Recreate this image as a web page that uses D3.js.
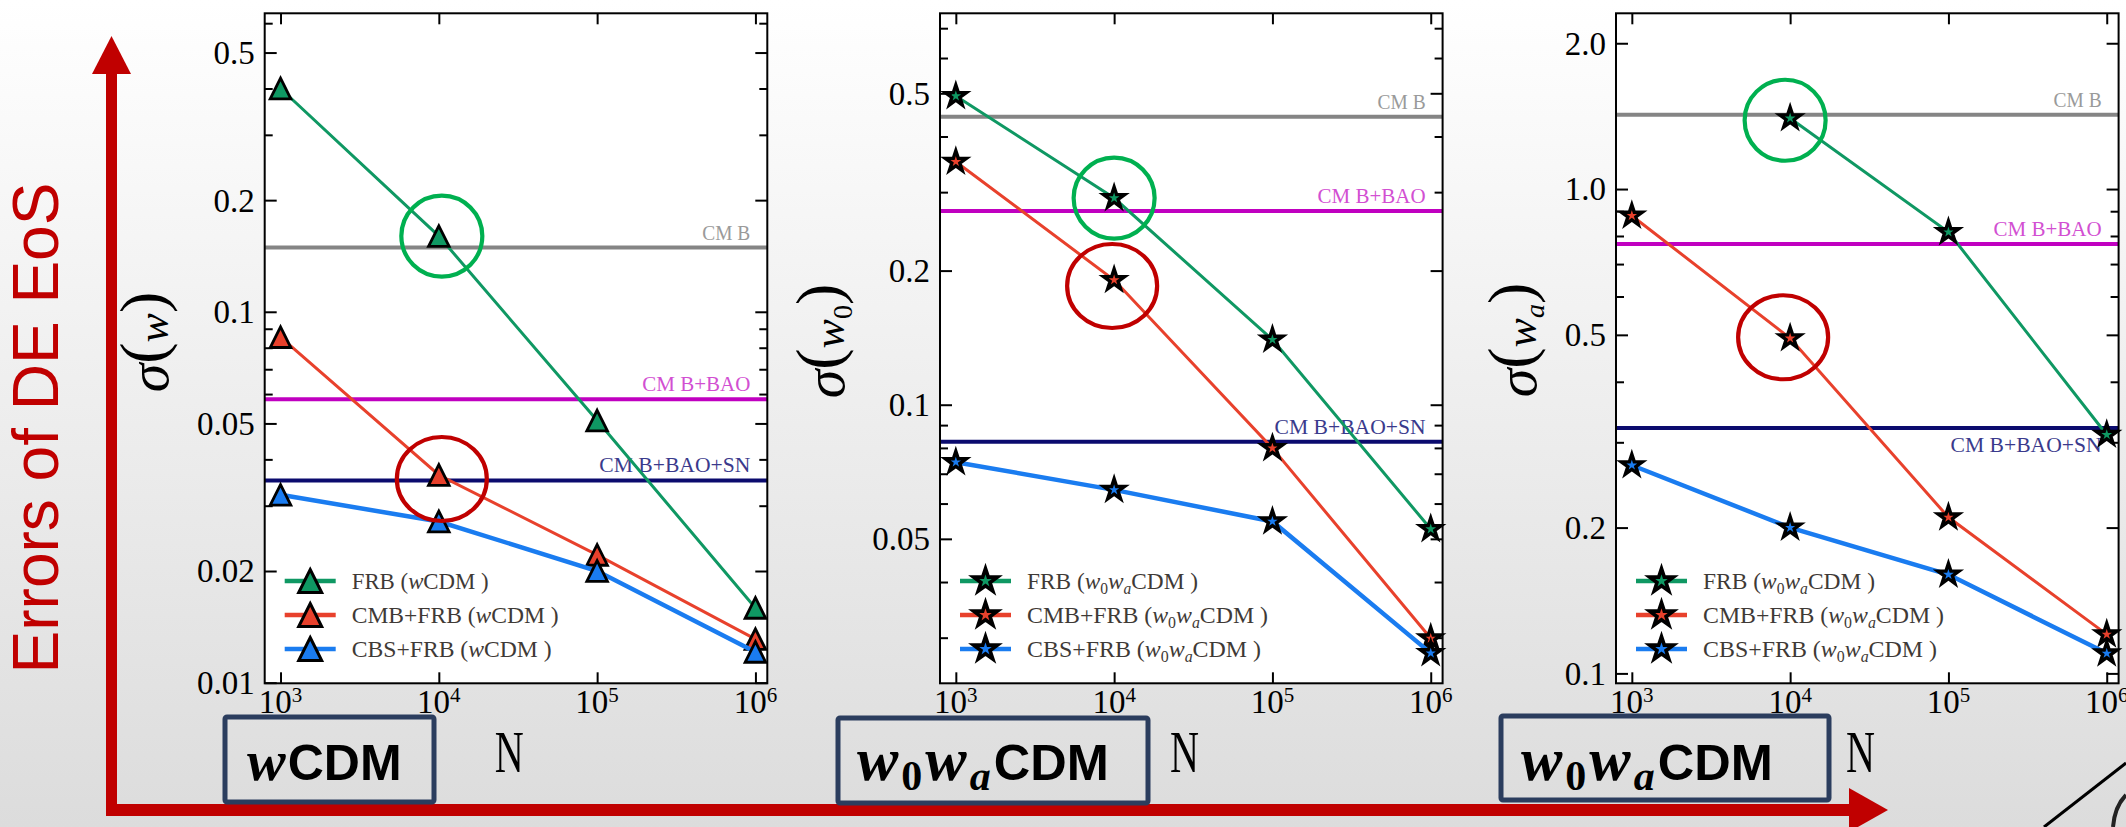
<!DOCTYPE html>
<html>
<head>
<meta charset="utf-8">
<script src="https://cdn.jsdelivr.net/npm/d3@7"></script>
<style>
  html, body { margin: 0; padding: 0; background: #fff; }
  svg { display: block; }
</style>
</head>
<body>
<svg id="fig" width="2126" height="827"></svg>
<script>
// number of FRBs on the x axis
const nValues = [1e3, 1e4, 1e5, 1e6];
const nExponents = ["3", "4", "5", "6"];

const seriesNames = ["FRB", "CMB+FRB", "CBS+FRB"];
const refNames = ["CM B", "CM B+BAO", "CM B+BAO+SN"];

// sigma(w), wCDM
const wFRB = [0.400, 0.160, 0.0509, 0.0159];
const wCMBFRB = [0.0854, 0.0363, 0.0221, 0.0131];
const wCBSFRB = [0.0321, 0.0272, 0.0200, 0.0121];
const wRefs = [0.149, 0.0581, 0.0351];
const wTicks = [0.5, 0.2, 0.1, 0.05, 0.02, 0.01];

// sigma(w0), w0waCDM
const w0FRB = [0.493, 0.291, 0.140, 0.0526];
const w0CMBFRB = [0.351, 0.1905, 0.0799, 0.0299];
const w0CBSFRB = [0.0743, 0.0644, 0.0547, 0.0277];
const w0Refs = [0.443, 0.272, 0.0826];
const w0Ticks = [0.5, 0.2, 0.1, 0.05];

// sigma(wa), w0waCDM  (no FRB-only point at 10^3)
const waFRB = [null, 1.40, 0.815, 0.311];
const waCMBFRB = [0.881, 0.492, 0.210, 0.1204];
const waCBSFRB = [0.269, 0.200, 0.160, 0.110];
const waRefs = [1.424, 0.770, 0.321];
const waTicks = [2.0, 1.0, 0.5, 0.2, 0.1];

// circled points: [series index, n index]
const circledPoints = [[0, 1], [1, 1]];

const W = 2126, H = 827;
const plotTop = 13.3, plotH = 670;
const plotW = 502.6;
const xDomain = [Math.pow(10, 2.9), Math.pow(10, 6.075)];

const serif = "'Liberation Serif', 'Times New Roman', serif";
const sans = "'Liberation Sans', Arial, sans-serif";
const seriesColors = ["#0f9863", "#e8412c", "#1a7cf0"];
const seriesWidths = [3, 3, 4.5];
const refColors = ["#858585", "#c000c0", "#0b0b6e"];
const refTextColors = ["#9a9a9a", "#d24fd2", "#3a3a8c"];
const circleColors = ["#00b050", "#c00000"];
const arrowRed = "#c00000";

const panels = [
  {left: 264.7, yDomain: [0.00996, 0.638], ticks: wTicks, series: [wFRB, wCMBFRB, wCBSFRB], refs: wRefs,
   marker: "triangle", sub: null, refBelow: [false, false, false],
   ylabel: [158, 342], box: [225, 717, 209, 85], boxText: 247,
   legendLen: [137, 207, 200], nudge: [[3, 0], [3, 4]]},
  {left: 940, yDomain: [0.0237, 0.756], ticks: w0Ticks, series: [w0FRB, w0CMBFRB, w0CBSFRB], refs: w0Refs,
   marker: "star", sub: "0", refBelow: [false, false, false],
   ylabel: [834, 341], box: [838, 718, 310, 85], boxText: 857,
   legendLen: [171, 241, 234], nudge: [[0, 0], [-2, 6]]},
  {left: 1616, yDomain: [0.0954, 2.306], ticks: waTicks, series: [waFRB, waCMBFRB, waCBSFRB], refs: waRefs,
   marker: "star", sub: "a", refBelow: [false, false, true],
   ylabel: [1526, 340], box: [1501, 716, 328, 84], boxText: 1521,
   legendLen: [172, 241, 234], nudge: [[-5, 2], [-7, -1]]}
];

const svg = d3.select("#fig");
const defs = svg.append("defs");
const grad = defs.append("linearGradient").attr("id", "bg")
  .attr("x1", 0).attr("y1", 0).attr("x2", 0).attr("y2", 1);
grad.append("stop").attr("offset", "0%").attr("stop-color", "#ffffff");
grad.append("stop").attr("offset", "100%").attr("stop-color", "#dcdcdc");
svg.append("rect").attr("width", W).attr("height", H).attr("fill", "url(#bg)");

// big red axes of the slide
svg.append("rect").attr("x", 106).attr("y", 70).attr("width", 11).attr("height", 746).attr("fill", arrowRed);
svg.append("path").attr("d", "M111.5,36L131,74L92,74Z").attr("fill", arrowRed);
svg.append("rect").attr("x", 106).attr("y", 804).attr("width", 1748).attr("height", 12).attr("fill", arrowRed);
svg.append("path").attr("d", "M1888,810L1849,788L1849,832Z").attr("fill", arrowRed);
svg.append("text")
  .attr("transform", "translate(58,428) rotate(-90)")
  .attr("text-anchor", "middle")
  .attr("font-family", sans).attr("font-size", 64).attr("fill", arrowRed)
  .text("Errors of DE  EoS");

// bits of the next drawing at the corner
svg.append("line").attr("x1", 2044).attr("y1", 827).attr("x2", 2126).attr("y2", 763)
  .attr("stroke", "#000").attr("stroke-width", 3);
svg.append("path").attr("d", "M2126,795C2118,803 2114,815 2113,827")
  .attr("fill", "none").attr("stroke", "#222").attr("stroke-width", 4);

function trianglePath(s) {
  return `M0,${-s}L${s},${s}L${-s},${s}Z`;
}
function markerPath(type, big) {
  if (type === "triangle") return trianglePath(big ? 11.5 : 10.3);
  const r = big ? 12.5 : 11;
  return d3.symbol(d3.symbolStar, r * r / 0.8908)();
}

function addModel(t, sub, size, opts) {
  const bold = opts.bold ? "bold" : null;
  const gap = opts.gap || 0;
  t.append("tspan").attr("font-style", "italic").attr("font-family", serif)
    .attr("font-weight", bold).attr("font-size", size.w).text("w");
  if (sub) {
    t.append("tspan").attr("font-size", size.sub).attr("dy", size.shift).attr("dx", gap)
      .attr("font-family", serif).attr("font-weight", bold).text("0");
    t.append("tspan").attr("font-style", "italic").attr("font-family", serif).attr("dx", gap)
      .attr("font-weight", bold).attr("font-size", size.w).attr("dy", -size.shift).text("w");
    t.append("tspan").attr("font-style", "italic").attr("font-size", size.sub).attr("dy", size.shift)
      .attr("dx", gap).attr("font-family", serif).attr("font-weight", bold).text("a");
    t.append("tspan").attr("font-family", opts.cdmFont).attr("font-weight", bold).attr("dx", gap)
      .attr("font-size", size.cdm).attr("dy", -size.shift).text("CDM");
  } else {
    t.append("tspan").attr("font-family", opts.cdmFont).attr("font-weight", bold).attr("dx", gap)
      .attr("font-size", size.cdm).text("CDM");
  }
}

panels.forEach((p) => {
  const x = d3.scaleLog().domain(xDomain).range([0, plotW]);
  const y = d3.scaleLog().domain(p.yDomain).range([plotH, 0]);
  const g = svg.append("g").attr("transform", `translate(${p.left},${plotTop})`);

  g.append("rect").attr("width", plotW).attr("height", plotH).attr("fill", "#fff");

  // reference constraints
  p.refs.forEach((v, i) => {
    g.append("line").attr("x1", 0).attr("x2", plotW).attr("y1", y(v)).attr("y2", y(v))
      .attr("stroke", refColors[i]).attr("stroke-width", 4);
    g.append("text")
      .attr("x", plotW - 17).attr("y", y(v) + (p.refBelow[i] ? 24 : -8))
      .attr("text-anchor", "end")
      .attr("font-family", serif).attr("font-size", 21)
      .attr("fill", refTextColors[i])
      .attr("textLength", [48, 108, 151][i]).attr("lengthAdjust", "spacingAndGlyphs")
      .text(refNames[i]);
  });

  // forecast curves
  const line = d3.line().defined(d => d[1] != null).x(d => x(d[0])).y(d => y(d[1]));
  p.series.forEach((vals, si) => {
    const pts = nValues.map((n, i) => [n, vals[i]]);
    g.append("path").datum(pts).attr("d", line)
      .attr("fill", "none").attr("stroke", seriesColors[si]).attr("stroke-width", seriesWidths[si]);
    g.selectAll(null).data(pts.filter(d => d[1] != null)).enter().append("path")
      .attr("transform", d => `translate(${x(d[0])},${y(d[1])})`)
      .attr("d", markerPath(p.marker, false))
      .attr("fill", seriesColors[si]).attr("stroke", "#000")
      .attr("stroke-width", p.marker === "triangle" ? 2.8 : 3.4)
      .attr("stroke-linejoin", "miter");
  });

  // axes, ticks pointing inward on all four sides
  const minor = [];
  for (let e = -3; e <= 1; e++) {
    for (let k = 2; k <= 9; k++) {
      const v = +(k * Math.pow(10, e)).toPrecision(3);
      if (v >= p.yDomain[0] && v <= p.yDomain[1] && !p.ticks.some(t => Math.abs(t - v) < 1e-9)) minor.push(v);
    }
  }
  const fmt = d => d >= 1 ? d.toFixed(1) : String(d);
  const styleAxis = a => {
    a.select(".domain").remove();
    a.selectAll("line").attr("stroke", "#000").attr("stroke-width", 2);
    a.attr("font-family", serif).attr("font-size", 33);
  };
  g.append("g").call(d3.axisLeft(y).tickValues(minor).tickFormat("").tickSize(-8)).call(styleAxis);
  g.append("g").attr("transform", `translate(${plotW},0)`)
    .call(d3.axisRight(y).tickValues(minor).tickFormat("").tickSize(-8)).call(styleAxis);
  const yl = g.append("g").call(d3.axisLeft(y).tickValues(p.ticks).tickFormat(fmt).tickSize(-12).tickPadding(10))
    .call(styleAxis);
  yl.selectAll("text").attr("fill", "#000").attr("dy", "0.33em");
  g.append("g").attr("transform", `translate(${plotW},0)`)
    .call(d3.axisRight(y).tickValues(p.ticks).tickFormat("").tickSize(-12)).call(styleAxis);
  g.append("g").attr("transform", `translate(0,${plotH})`)
    .call(d3.axisBottom(x).tickValues(nValues).tickFormat("").tickSize(-11)).call(styleAxis);
  g.append("g").call(d3.axisTop(x).tickValues(nValues).tickFormat("").tickSize(-11)).call(styleAxis);
  g.append("rect").attr("width", plotW).attr("height", plotH)
    .attr("fill", "none").attr("stroke", "#000").attr("stroke-width", 2);

  // x tick labels 10^n
  nValues.forEach((n, i) => {
    const t = g.append("text").attr("x", x(n)).attr("y", plotH + 30)
      .attr("text-anchor", "middle").attr("font-family", serif).attr("fill", "#000");
    t.append("tspan").attr("font-size", 33).text("10");
    t.append("tspan").attr("font-size", 21).attr("dy", -11).text(nExponents[i]);
  });

  // legend
  p.series.forEach((vals, si) => {
    const ry = 567.7 + si * 34;
    g.append("line").attr("x1", 20).attr("x2", 71).attr("y1", ry).attr("y2", ry)
      .attr("stroke", seriesColors[si]).attr("stroke-width", 4.5);
    g.append("path").attr("transform", `translate(45.5,${ry})`)
      .attr("d", markerPath(p.marker, true))
      .attr("fill", seriesColors[si]).attr("stroke", "#000")
      .attr("stroke-width", p.marker === "triangle" ? 3 : 3.6);
    const t = g.append("text").attr("x", 87).attr("y", ry + 8)
      .attr("font-family", serif).attr("font-size", 24).attr("fill", "#3f3a36")
      .attr("textLength", p.legendLen[si]).attr("lengthAdjust", "spacingAndGlyphs");
    t.append("tspan").text(seriesNames[si] + " (");
    addModel(t, p.sub, {w: 24, sub: 16, cdm: 24, shift: 5}, {bold: false, cdmFont: serif});
    t.append("tspan").text(" )");
  });

  // highlighted points
  circledPoints.forEach(([si, ni], ci) => {
    const v = p.series[si][ni];
    const nd = p.nudge[ci];
    g.append("ellipse")
      .attr("cx", x(nValues[ni]) + nd[0]).attr("cy", y(v) + nd[1])
      .attr("rx", ci === 0 ? 40.5 : 45).attr("ry", ci === 0 ? 40.5 : 42)
      .attr("fill", "none").attr("stroke", circleColors[ci]).attr("stroke-width", 4.2);
  });

  // y label sigma(...)
  const yt = svg.append("text")
    .attr("transform", `translate(${p.ylabel[0]},${p.ylabel[1]}) rotate(-90)`)
    .attr("text-anchor", "middle").attr("y", 10)
    .attr("font-family", serif).attr("fill", "#000");
  yt.append("tspan").attr("font-style", "italic").attr("font-size", 58).text("σ");
  yt.append("tspan").attr("font-size", 64).attr("dy", -4).text("(");
  yt.append("tspan").attr("font-style", "italic").attr("font-size", 44).attr("dy", 4).text("w");
  if (p.sub) {
    yt.append("tspan").attr("font-size", 28).attr("dy", 8)
      .attr("font-style", p.sub === "a" ? "italic" : null).text(p.sub);
  }
  yt.append("tspan").attr("font-size", 64).attr("dy", p.sub ? -12 : -4).text(")");

  // x label N
  svg.append("text").attr("x", p.left + 244.5).attr("y", 772)
    .attr("text-anchor", "middle").attr("font-family", serif).attr("font-size", 60)
    .attr("textLength", 29).attr("lengthAdjust", "spacingAndGlyphs").text("N");

  // model box
  const b = p.box;
  svg.append("rect").attr("x", b[0]).attr("y", b[1]).attr("width", b[2]).attr("height", b[3])
    .attr("fill", "none").attr("stroke", "#2b3d5e").attr("stroke-width", 5).attr("rx", 2);
  const bt = svg.append("text").attr("x", p.boxText).attr("y", 780).attr("fill", "#000");
  if (p.sub) {
    addModel(bt, p.sub, {w: 62, sub: 42, cdm: 50.5, shift: 10}, {bold: true, cdmFont: sans, gap: 3});
  } else {
    addModel(bt, p.sub, {w: 58, sub: 40, cdm: 50, shift: 10}, {bold: true, cdmFont: sans, gap: 2});
  }
});
</script>
</body>
</html>
